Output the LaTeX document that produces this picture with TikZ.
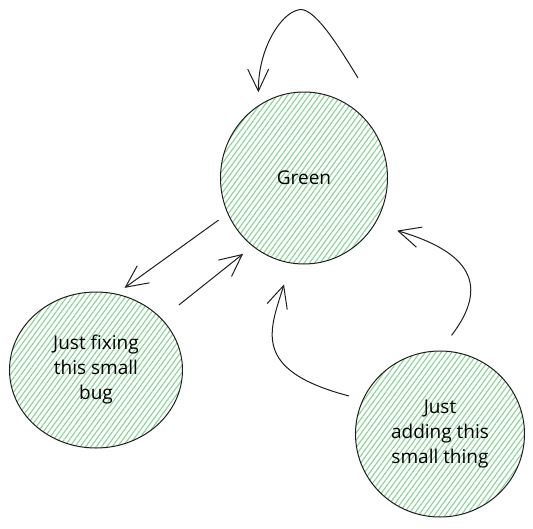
\documentclass[tikz,border=0pt]{standalone}
\usepackage{fontspec}
\setmainfont{Open Sans}
\usetikzlibrary{arrows.meta, shapes.geometric, patterns.meta}
\definecolor{inkcol}{RGB}{30,30,30}
\definecolor{hatchcol}{RGB}{135,212,148}
\tikzset{
  hatched/.style={
    ellipse, draw=inkcol, line width=1pt, inner sep=0pt,
    align=center, font=\fontsize{19}{25}\selectfont,
    pattern={Lines[angle=54, distance=4.3pt, line width=1.1pt]},
    pattern color=hatchcol
  },
  flow/.style={
    draw=inkcol, line width=1pt,
    -{Straight Barb[length=22pt, width=21pt, line width=1pt]}
  }
}

\begin{document}
\begin{tikzpicture}[x=1pt, y=-1pt]

  % --- page frame -------------------------------------------------------
  \useasboundingbox (0,0) rectangle (533,528);

  % --- states -----------------------------------------------------------
  \node[hatched, minimum width=167pt, minimum height=172pt] (green) at (304,178) {Green};
  \node[hatched, minimum width=173pt, minimum height=156pt] (bugfix) at (96,370)
    {Just fixing\\this small\\bug};
  \node[hatched, minimum width=169pt, minimum height=166pt] (thing) at (440,434)
    {Just\\adding this\\small thing};

  % --- self loop on top of the green state ------------------------------
  \coordinate (loopin) at (358,78);
  \draw[flow, shorten >=13pt]
    (loopin) .. controls (335,40) and (312,5) .. (298,10)
             .. controls (280,14) and (258,50) .. (green.122);

  % --- green <-> bug fix ------------------------------------------------
  \draw[flow, shorten <=11pt, shorten >=10pt] (green.205.5) -- (bugfix.75);
  \draw[flow, shorten <=22pt, shorten >=12pt] (bugfix.38.4) -- (green.233.4);

  % --- small thing back to green, two curved paths ----------------------
  \draw[flow, shorten <=14pt, shorten >=22pt]
    (thing.156) .. controls (250,370) and (270,330) .. (green.261.5);
  \draw[flow, shorten <=19pt, shorten >=23pt]
    (thing.90) .. controls (490,285) and (470,252) .. (green.327.5);

\end{tikzpicture}
\end{document}
